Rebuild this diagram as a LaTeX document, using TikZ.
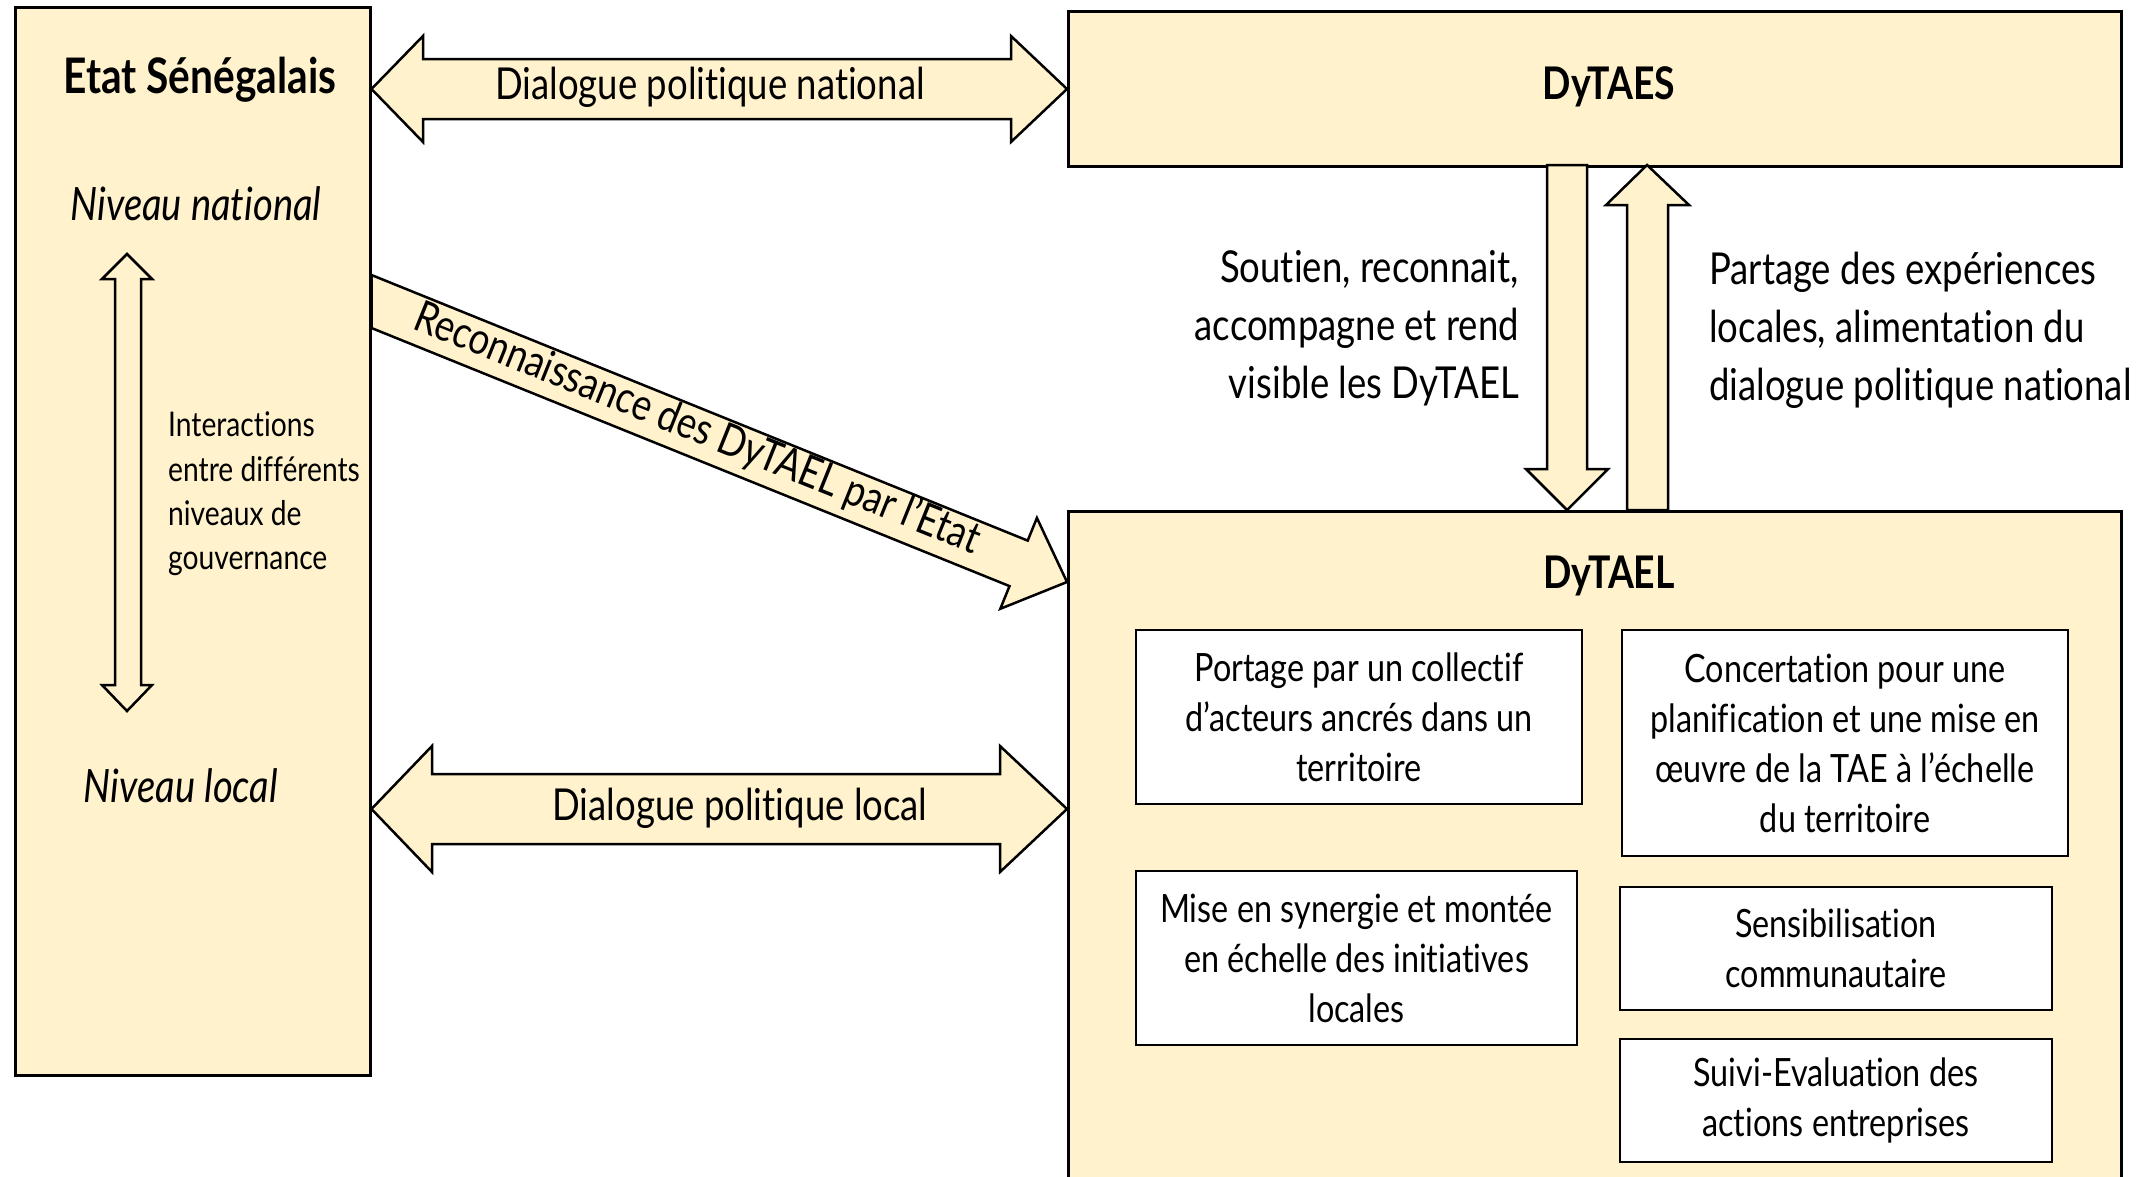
\documentclass[tikz,border=0pt]{standalone}
\usepackage{fontspec}
\setmainfont{Lato}[FakeStretch=0.83, Ligatures=NoCommon]
\definecolor{boxfill}{HTML}{FFF2CC}
\tikzset{
  ybox/.style={draw, line width=2.5pt, fill=boxfill, inner sep=0pt, anchor=north west},
  wbox/.style={draw, line width=2.5pt, fill=white, inner sep=0pt, align=center,
    font=\fontsize{39}{50}\selectfont},
  blockarrow/.style={draw, line width=2.5pt, fill=boxfill, line join=miter},
  lbl/.style={inner sep=0pt, font=\fontsize{44}{58}\selectfont},
  title/.style={inner sep=0pt, font=\fontsize{49}{56}\selectfont\bfseries},
  lvl/.style={inner sep=0pt, font=\fontsize{46}{50}\selectfont\itshape},
  dlg/.style={inner sep=0pt, font=\fontsize{44}{50}\selectfont},
}
\begin{document}
\begin{tikzpicture}[x=1pt,y=-1pt]
\useasboundingbox (0,0) rectangle (2152,1176);
% main boxes
\node[ybox, minimum width=355, minimum height=1068] (etat) at (14,6) {};
\node[ybox, minimum width=1053, minimum height=155] (dytaes) at (1067,10) {};
\node[ybox, minimum width=1053, minimum height=690] (dytael) at (1067,510) {};
% titles
\node[title, anchor=base] (etatT) at (200,93) {Etat Sénégalais};
\node[lvl, anchor=base] (nnat) at (196,220) {Niveau national};
\node[lvl, anchor=base] (nloc) at (181,802) {Niveau local};
\node[title, font=\fontsize{45}{56}\selectfont\bfseries, anchor=base] (dytaesT) at (1609,99) {DyTAES};
\node[title, font=\fontsize{45}{56}\selectfont\bfseries, anchor=base] (dytaelT) at (1609,588) {DyTAEL};
% vertical double arrow in left box
\draw[blockarrow] (127,254) -- (152,279) -- (141,279) -- (141,685) -- (152,685)
  -- (127,711) -- (102,685) -- (115,685) -- (115,279) -- (102,279) -- cycle;
\node[inner sep=0pt, anchor=west, align=left, font=\fontsize{34}{44.3}\selectfont]
  (inter) at (168,494) {Interactions\\entre différents\\niveaux de\\gouvernance};
% national dialogue
\draw[blockarrow] (etat.east |- 0,89) -- (423,36) -- (423,59) -- (1011,59) -- (1011,36)
  -- (dytaes.west |- 0,89) -- (1011,142) -- (1011,119) -- (423,119) -- (423,142) -- cycle;
\node[dlg, anchor=base] (dnat) at (710,99) {Dialogue politique national};
% local dialogue
\draw[blockarrow] (etat.east |- 0,809) -- (432,746) -- (432,774) -- (1000,774) -- (1000,746)
  -- (dytael.west |- 0,809) -- (1000,872) -- (1000,844) -- (432,844) -- (432,872) -- cycle;
\node[dlg, anchor=base] (dloc) at (740,820) {Dialogue politique local};
% diagonal arrow
\draw[blockarrow] (etat.east |- 0,275) -- (1027.7,540.6) -- (1036.9,517.9)
  -- (dytael.west |- 0,582) -- (1000.3,608.8) -- (1009.5,586.1) -- (etat.east |- 0,328) -- cycle;
\node[dlg, rotate=-21.9] (reco) at (697,429) {Reconnaissance des DyTAEL par l’Etat};
% vertical arrows between DyTAES and DyTAEL
\draw[blockarrow] (1547,165) -- (1587,165) -- (1587,469) -- (1608,469) -- (1567,510)
  -- (1526,469) -- (1547,469) -- cycle;
\draw[blockarrow] (1627,510) -- (1627,205) -- (1606,205) -- (1647,165) -- (1689,205)
  -- (1668,205) -- (1668,510) -- cycle;
\node[lbl, anchor=east, align=right] (down) at (1519,328)
  {Soutien, reconnait,\\accompagne et rend\\visible les DyTAEL};
\node[lbl, anchor=west, align=left] (up) at (1709,330)
  {Partage des expériences\\locales, alimentation du\\dialogue politique national};
% inner boxes
\node[wbox, minimum width=446, minimum height=174] (b1) at (1359,717)
  {Portage par un collectif\\d’acteurs ancrés dans un\\territoire};
\node[wbox, minimum width=446, minimum height=226] (b2) at (1845,743)
  {Concertation pour une\\planification et une mise en\\œuvre de la TAE à l’échelle\\du territoire};
\node[wbox, minimum width=441, minimum height=174] (b3) at (1356.5,958)
  {Mise en synergie et montée\\en échelle des initiatives\\locales};
\node[wbox, minimum width=432, minimum height=123] (b4) at (1836,948.5)
  {Sensibilisation\\communautaire};
\node[wbox, minimum width=432, minimum height=123] (b5) at (1836,1100.5)
  {Suivi-Evaluation des\\actions entreprises};
\end{tikzpicture}
\end{document}
